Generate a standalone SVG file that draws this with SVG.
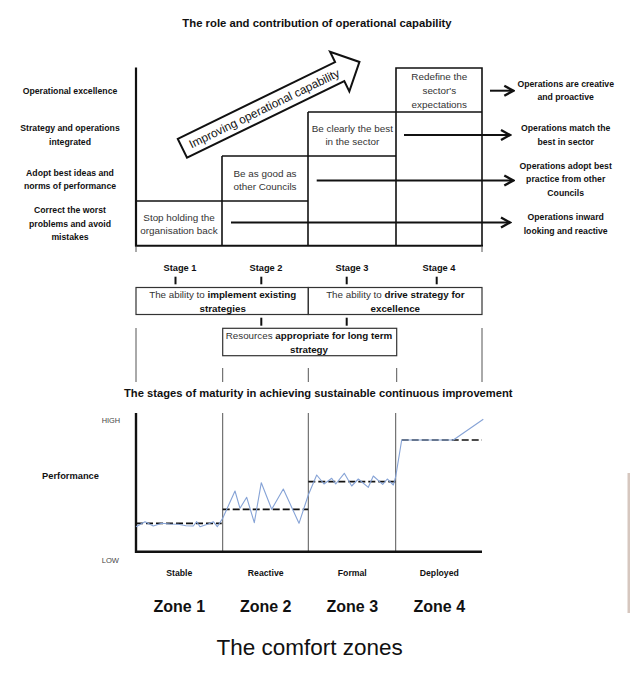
<svg xmlns="http://www.w3.org/2000/svg" width="630" height="676" viewBox="0 0 630 676">
<style>
text{font-family:"Liberation Sans",Arial,sans-serif;fill:#111}
.title{font-size:11.3px;font-weight:bold;text-anchor:middle}
.lab{font-size:8.7px;font-weight:bold;text-anchor:middle}
.box{font-size:9.9px;text-anchor:middle;fill:#333}
.b{font-weight:bold;fill:#111}
.ln{stroke:#111;stroke-width:1.6;fill:none}
.thin{stroke:#555;stroke-width:1;fill:none}
.arr{stroke:#111;stroke-width:2;fill:none;marker-end:url(#ah)}
.tick{stroke:#111;stroke-width:2}
.dash{stroke:#111;stroke-width:1.7;stroke-dasharray:7 3;fill:none}
.zone{font-size:16px;font-weight:bold;text-anchor:middle}
</style>
<defs>
<marker id="ah" markerUnits="userSpaceOnUse" viewBox="-12 -7 14 14" refX="0" refY="0" markerWidth="14" markerHeight="14" orient="auto">
<path d="M-9,-5 L0,0 L-9,5" fill="none" stroke="#111" stroke-width="2.4"/>
</marker>
</defs>
<rect width="630" height="676" fill="#fff"/>
<text class="title" x="317" y="27.3">The role and contribution of operational capability</text>

<g id="levels">
<text class="lab" x="70" y="93.7">Operational excellence</text>
<text class="lab" x="70" y="131.3">Strategy and operations</text>
<text class="lab" x="70" y="145">integrated</text>
<text class="lab" x="70" y="175.7">Adopt best ideas and</text>
<text class="lab" x="70" y="189">norms of performance</text>
<text class="lab" x="70" y="213">Correct the worst</text>
<text class="lab" x="70" y="226.7">problems and avoid</text>
<text class="lab" x="70" y="240">mistakes</text>
</g>

<g id="grid">
<line x1="136" y1="67.5" x2="136" y2="246.5" stroke="#111" stroke-width="2.2"/>
<line x1="135" y1="245.7" x2="483" y2="245.7" stroke="#111" stroke-width="2"/>
<polyline class="ln" points="396,245 396,68 482,68 482,245"/>
<line class="ln" x1="308" y1="112" x2="482" y2="112"/>
<line class="ln" x1="308" y1="112" x2="308" y2="245"/>
<line class="ln" x1="222" y1="156" x2="396" y2="156"/>
<line class="ln" x1="222" y1="156" x2="222" y2="245"/>
<line class="ln" x1="136" y1="201" x2="308" y2="201"/>
<line class="thin" x1="136" y1="246" x2="136" y2="252"/>
<line class="thin" x1="482" y1="246" x2="482" y2="252"/>
</g>

<g id="box1"><text class="box" x="179" y="220.7">Stop holding the</text><text class="box" x="179" y="234.1">organisation back</text></g>
<g id="box2"><text class="box" x="265" y="176.7">Be as good as</text><text class="box" x="265" y="190.1">other Councils</text></g>
<g id="box3"><text class="box" x="352.3" y="132.4">Be clearly the best</text><text class="box" x="352.3" y="145">in the sector</text></g>
<g id="box4"><text class="box" x="439.3" y="80.1">Redefine the</text><text class="box" x="439.3" y="94.1">sector's</text><text class="box" x="439.3" y="107.7">expectations</text></g>

<g id="bigarrow" transform="translate(182.4,148.3) rotate(-26)">
<path d="M0,-10.5 L175,-10.5 L175,-22 L197,0 L175,22 L175,10.5 L0,10.5 Z" fill="#fff" stroke="#111" stroke-width="2"/>
<text x="91" y="4.2" style="font-size:11.8px;text-anchor:middle">Improving operational capability</text>
</g>

<g id="outcomes">
<text class="lab" x="565.7" y="87">Operations are creative</text>
<text class="lab" x="565.7" y="100.3">and proactive</text>
<text class="lab" x="565.7" y="131.3">Operations match the</text>
<text class="lab" x="565.7" y="144.7">best in sector</text>
<text class="lab" x="565.7" y="168.7">Operations adopt best</text>
<text class="lab" x="565.7" y="182.3">practice from other</text>
<text class="lab" x="565.7" y="195.7">Councils</text>
<text class="lab" x="565.7" y="220.3">Operations inward</text>
<text class="lab" x="565.7" y="233.7">looking and reactive</text>
</g>

<g id="connectors">
<line class="arr" x1="490" y1="90.7" x2="513.3" y2="90.7"/>
<line class="arr" x1="404" y1="135" x2="510" y2="135"/>
<line class="arr" x1="316.7" y1="180.5" x2="513.3" y2="180.5"/>
<line class="arr" x1="231" y1="222.5" x2="510" y2="222.5"/>
</g>

<g id="stages">
<text class="lab" style="font-size:9.3px" x="180" y="271.3">Stage 1</text>
<text class="lab" style="font-size:9.3px" x="266" y="271.3">Stage 2</text>
<text class="lab" style="font-size:9.3px" x="352" y="271.3">Stage 3</text>
<text class="lab" style="font-size:9.3px" x="439" y="271.3">Stage 4</text>
<line class="tick" x1="175.5" y1="276.7" x2="175.5" y2="284.3"/>
<line class="tick" x1="261.3" y1="276.7" x2="261.3" y2="284.3"/>
<line class="tick" x1="346.7" y1="276.7" x2="346.7" y2="284.3"/>
<line class="tick" x1="436.7" y1="276.7" x2="436.7" y2="284.3"/>
<line class="tick" x1="261.3" y1="317.7" x2="261.3" y2="325.7"/>
<line class="tick" x1="346.7" y1="317.7" x2="346.7" y2="325.7"/>
</g>
<g id="ability1">
<rect x="136" y="287.5" width="172.3" height="27" fill="none" stroke="#333" stroke-width="1.2"/>
<text class="box" style="font-size:9.8px" x="222.7" y="298.4">The ability to <tspan class="b">implement existing</tspan></text>
<text class="box b" style="font-size:9.8px" x="222.7" y="312.4">strategies</text>
</g>
<g id="ability2">
<rect x="308.3" y="287.5" width="173.7" height="27" fill="none" stroke="#333" stroke-width="1.2"/>
<text class="box" style="font-size:9.8px" x="395.3" y="298.4">The ability to <tspan class="b">drive strategy for</tspan></text>
<text class="box b" style="font-size:9.8px" x="395.3" y="312.4">excellence</text>
</g>
<g id="resources">
<rect x="222.7" y="328.3" width="174" height="27.4" fill="none" stroke="#333" stroke-width="1.2"/>
<text class="box" style="font-size:9.8px" x="309" y="339.4">Resources <tspan class="b">appropriate for long term</tspan></text>
<text class="box b" style="font-size:9.8px" x="309" y="352.7">strategy</text>
</g>
<g id="guides">
<line class="thin" x1="136" y1="328" x2="136" y2="382"/>
<line class="thin" x1="482" y1="328" x2="482" y2="382"/>
<line class="thin" x1="222.7" y1="368" x2="222.7" y2="382"/>
<line class="thin" x1="308.3" y1="368" x2="308.3" y2="382"/>
<line class="thin" x1="396.7" y1="368" x2="396.7" y2="382"/>
</g>

<text class="title" style="font-size:11.2px" x="318.3" y="396.7">The stages of maturity in achieving sustainable continuous improvement</text>

<g id="chart">
<text x="101.7" y="423.4" style="font-size:7.4px;fill:#444">HIGH</text>
<text x="101.7" y="562.7" style="font-size:7.6px;fill:#444">LOW</text>
<text class="lab" style="font-size:9.3px" x="70.5" y="479.3">Performance</text>
<line class="thin" x1="222.7" y1="413" x2="222.7" y2="552"/>
<line class="thin" x1="308.3" y1="413" x2="308.3" y2="552"/>
<line class="thin" x1="395.7" y1="413" x2="395.7" y2="552"/>
<line x1="136" y1="413" x2="136" y2="553" stroke="#111" stroke-width="2.4"/>
<line x1="135" y1="551.8" x2="482" y2="551.8" stroke="#111" stroke-width="2.4"/>
<line class="dash" x1="136" y1="523.3" x2="221.7" y2="523.3"/>
<line class="dash" x1="222.7" y1="509.3" x2="308.3" y2="509.3"/>
<line class="dash" x1="308.3" y1="481.7" x2="395.7" y2="481.7"/>
<line class="dash" x1="401.7" y1="440" x2="482" y2="440"/>
<polyline fill="none" stroke="#86a3d6" stroke-width="1.1" stroke-linejoin="round" points="136,526.7 145,521.7 153.3,526 161.7,523.3 170,524 178.3,524.3 186,525.7 193.3,526 196.7,521.7 200,526.7 208.3,524 213.3,521.7 217.3,526.7 222.7,518.3 235,491 240,508.3 246.7,497.3 254.3,522.7 261.3,482.7 271.7,509.3 283.3,489 299,523.3 308.3,495 316.7,475 324,484 331.7,478.3 335.7,484 344.3,473.3 351.7,486 358.3,479 368.3,487.3 373.3,476 382.7,484.3 387.3,479 390,481.7 393.3,485 395.7,476.7 401.7,440 453.3,440 483.3,419.3"/>
<text class="lab" x="179.3" y="576.3">Stable</text>
<text class="lab" x="265.7" y="576.3">Reactive</text>
<text class="lab" x="352.3" y="576.3">Formal</text>
<text class="lab" x="439.3" y="576.3">Deployed</text>
</g>

<g id="zones">
<text class="zone" x="179.3" y="611.5">Zone 1</text>
<text class="zone" x="265.7" y="611.5">Zone 2</text>
<text class="zone" x="352.3" y="611.5">Zone 3</text>
<text class="zone" x="439.3" y="611.5">Zone 4</text>
<text x="309.7" y="655.3" style="font-size:22.5px;text-anchor:middle">The comfort zones</text>
</g>
<rect x="627.5" y="473" width="2.5" height="140" fill="#d6c7bf"/>
</svg>
